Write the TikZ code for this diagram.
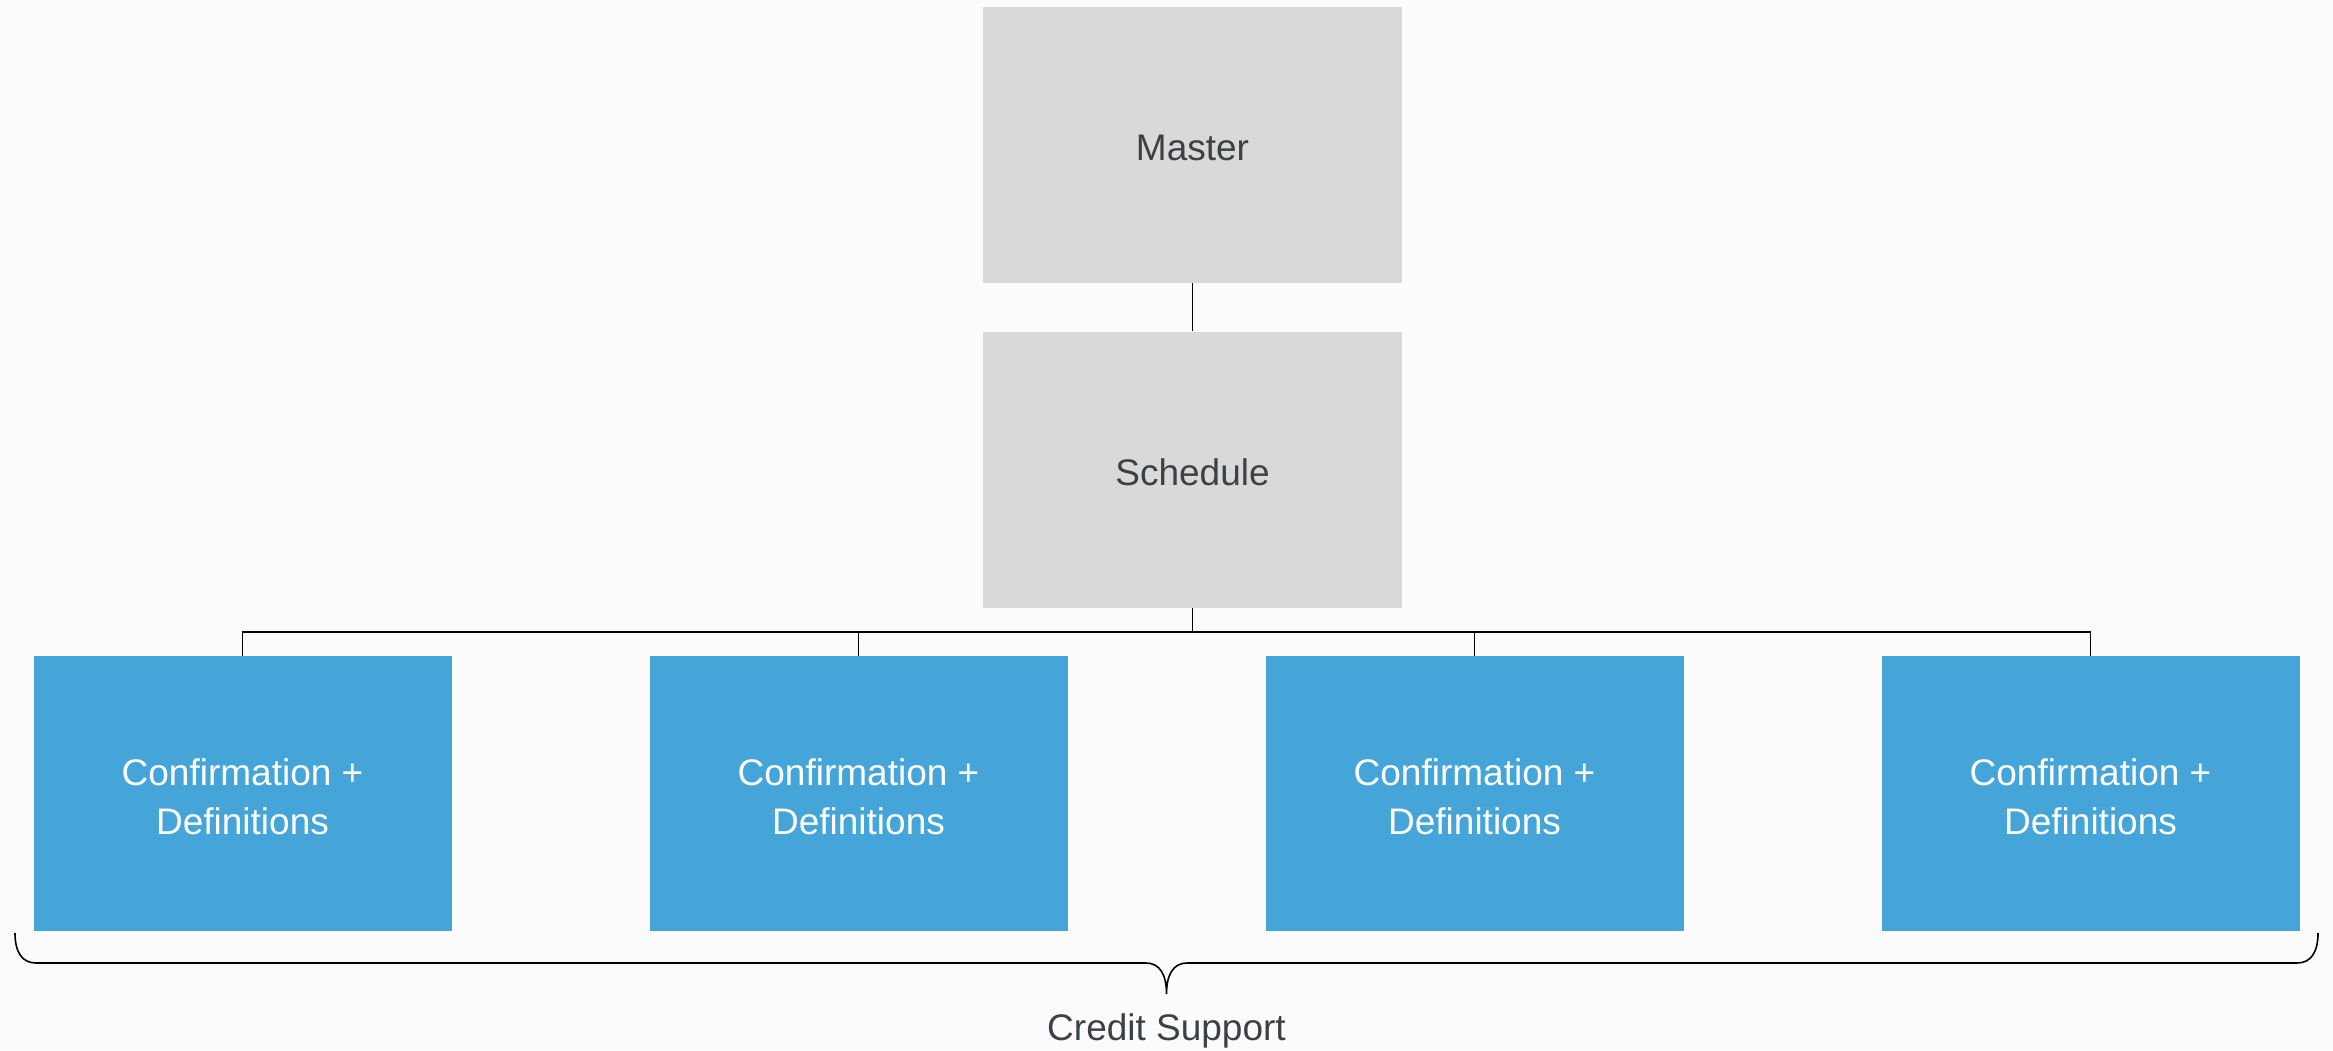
\documentclass[tikz,border=0pt]{standalone}
\usepackage{fontspec}
\setmainfont{Liberation Sans}
\definecolor{pagebg}{HTML}{FBFBFB}
\definecolor{boxgray}{HTML}{D9D9D9}
\definecolor{boxblue}{HTML}{45A5D8}
\definecolor{inkgray}{HTML}{3C4146}
\begin{document}
\begin{tikzpicture}[x=1pt,y=-1pt,
  every node/.style={font=\fontsize{37}{49}\selectfont},
  graybox/.style={fill=boxgray, text=inkgray, minimum width=419pt, minimum height=276pt, inner sep=0pt, align=center},
  bluebox/.style={fill=boxblue, text=white, minimum width=418pt, minimum height=275pt, inner sep=0pt, align=center},
  label/.style={yshift=-3pt},
  link/.style={draw=black, line width=1.8pt},
  bracestyle/.style={draw=black, line width=1.6pt}]
  % page
  \fill[pagebg] (0,0) rectangle (2333,1050);
  \useasboundingbox (0,0) rectangle (2333,1050);

  % hierarchy boxes
  \node[graybox] (master) at (1192.5,145) {};
  \node[graybox] (sched) at (1192.5,469.5) {};
  \node[bluebox] (c1) at (242.5,793.5) {};
  \node[bluebox] (c2) at (858.5,793.5) {};
  \node[bluebox] (c3) at (1474.5,793.5) {};
  \node[bluebox] (c4) at (2090.5,793.5) {};

  % box texts
  \node[text=inkgray, label] (tmaster) at (master) {Master};
  \node[text=inkgray, label] (tsched) at (sched) {Schedule};
  \foreach \c in {c1,c2,c3,c4}
    \node[text=white, align=center, label] (t\c) at (\c) {Confirmation +\\Definitions};

  % connectors
  \draw[link] (master.south) -- (sched.north);
  \foreach \c in {c1,c2,c3,c4}
    \draw[link] (\c.north) -- ++(0,-24) -| (sched.south);

  % brace under the confirmations
  \coordinate (bl) at (15,933);
  \coordinate (br) at (2318,933);
  \coordinate (tip) at (1166.5,994);
  \draw[bracestyle] (bl) .. controls (15,952) and (22,963) .. (36,963)
    -- (1146,963) .. controls (1160,963) and (1166.5,975) .. (tip)
    .. controls (1166.5,975) and (1173,963) .. (1187,963)
    -- (2297,963) .. controls (2311,963) and (2318,952) .. (br);
  \node[text=inkgray, label] (credit) at (1166.5,1028) {Credit Support};
\end{tikzpicture}
\end{document}
